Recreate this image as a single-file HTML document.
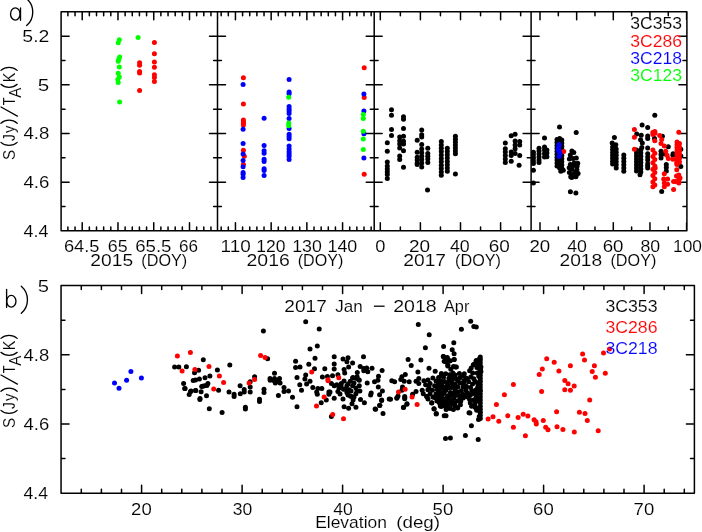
<!DOCTYPE html>
<html><head><meta charset="utf-8"><style>
html,body{margin:0;padding:0;background:#fff;}
svg{display:block;}
text{font-family:"Liberation Sans",sans-serif;font-size:17px;stroke:#fff;stroke-width:0.12px;}
</style></head><body>
<svg width="702" height="532" viewBox="0 0 702 532">
<rect width="702" height="532" fill="#fff"/>
<path d="M61.10 11.80L686.90 11.80M61.10 230.80L686.90 230.80M61.10 11.80L61.10 230.80M686.90 11.80L686.90 230.80M217.50 11.80L217.50 230.80M374.20 11.80L374.20 230.80M531.10 11.80L531.10 230.80M61.10 206.47L65.00 206.47M683.00 206.47L686.90 206.47M213.60 206.47L221.40 206.47M370.30 206.47L378.10 206.47M527.20 206.47L535.00 206.47M61.10 182.13L69.10 182.13M678.90 182.13L686.90 182.13M209.50 182.13L225.50 182.13M366.20 182.13L382.20 182.13M523.10 182.13L539.10 182.13M61.10 157.80L65.00 157.80M683.00 157.80L686.90 157.80M213.60 157.80L221.40 157.80M370.30 157.80L378.10 157.80M527.20 157.80L535.00 157.80M61.10 133.47L69.10 133.47M678.90 133.47L686.90 133.47M209.50 133.47L225.50 133.47M366.20 133.47L382.20 133.47M523.10 133.47L539.10 133.47M61.10 109.13L65.00 109.13M683.00 109.13L686.90 109.13M213.60 109.13L221.40 109.13M370.30 109.13L378.10 109.13M527.20 109.13L535.00 109.13M61.10 84.80L69.10 84.80M678.90 84.80L686.90 84.80M209.50 84.80L225.50 84.80M366.20 84.80L382.20 84.80M523.10 84.80L539.10 84.80M61.10 60.47L65.00 60.47M683.00 60.47L686.90 60.47M213.60 60.47L221.40 60.47M370.30 60.47L378.10 60.47M527.20 60.47L535.00 60.47M61.10 36.13L69.10 36.13M678.90 36.13L686.90 36.13M209.50 36.13L225.50 36.13M366.20 36.13L382.20 36.13M523.10 36.13L539.10 36.13M61.10 11.80L65.00 11.80M683.00 11.80L686.90 11.80M213.60 11.80L221.40 11.80M370.30 11.80L378.10 11.80M527.20 11.80L535.00 11.80M67.89 230.80L67.89 226.90M67.89 11.80L67.89 15.70M75.05 230.80L75.05 226.90M75.05 11.80L75.05 15.70M82.20 230.80L82.20 222.80M82.20 11.80L82.20 19.80M89.35 230.80L89.35 226.90M89.35 11.80L89.35 15.70M96.51 230.80L96.51 226.90M96.51 11.80L96.51 15.70M103.66 230.80L103.66 226.90M103.66 11.80L103.66 15.70M110.81 230.80L110.81 226.90M110.81 11.80L110.81 15.70M117.97 230.80L117.97 222.80M117.97 11.80L117.97 19.80M125.12 230.80L125.12 226.90M125.12 11.80L125.12 15.70M132.27 230.80L132.27 226.90M132.27 11.80L132.27 15.70M139.42 230.80L139.42 226.90M139.42 11.80L139.42 15.70M146.58 230.80L146.58 226.90M146.58 11.80L146.58 15.70M153.73 230.80L153.73 222.80M153.73 11.80L153.73 19.80M160.88 230.80L160.88 226.90M160.88 11.80L160.88 15.70M168.04 230.80L168.04 226.90M168.04 11.80L168.04 15.70M175.19 230.80L175.19 226.90M175.19 11.80L175.19 15.70M182.34 230.80L182.34 226.90M182.34 11.80L182.34 15.70M189.50 230.80L189.50 222.80M189.50 11.80L189.50 19.80M196.65 230.80L196.65 226.90M196.65 11.80L196.65 15.70M203.80 230.80L203.80 226.90M203.80 11.80L203.80 15.70M210.95 230.80L210.95 226.90M210.95 11.80L210.95 15.70M221.17 230.80L221.17 226.90M221.17 11.80L221.17 15.70M228.31 230.80L228.31 226.90M228.31 11.80L228.31 15.70M235.45 230.80L235.45 222.80M235.45 11.80L235.45 19.80M242.59 230.80L242.59 226.90M242.59 11.80L242.59 15.70M249.73 230.80L249.73 226.90M249.73 11.80L249.73 15.70M256.88 230.80L256.88 226.90M256.88 11.80L256.88 15.70M264.02 230.80L264.02 226.90M264.02 11.80L264.02 15.70M271.16 230.80L271.16 222.80M271.16 11.80L271.16 19.80M278.30 230.80L278.30 226.90M278.30 11.80L278.30 15.70M285.44 230.80L285.44 226.90M285.44 11.80L285.44 15.70M292.59 230.80L292.59 226.90M292.59 11.80L292.59 15.70M299.73 230.80L299.73 226.90M299.73 11.80L299.73 15.70M306.87 230.80L306.87 222.80M306.87 11.80L306.87 19.80M314.01 230.80L314.01 226.90M314.01 11.80L314.01 15.70M321.15 230.80L321.15 226.90M321.15 11.80L321.15 15.70M328.30 230.80L328.30 226.90M328.30 11.80L328.30 15.70M335.44 230.80L335.44 226.90M335.44 11.80L335.44 15.70M342.58 230.80L342.58 222.80M342.58 11.80L342.58 19.80M349.72 230.80L349.72 226.90M349.72 11.80L349.72 15.70M356.86 230.80L356.86 226.90M356.86 11.80L356.86 15.70M364.01 230.80L364.01 226.90M364.01 11.80L364.01 15.70M371.15 230.80L371.15 226.90M371.15 11.80L371.15 15.70M380.30 230.80L380.30 222.80M380.30 11.80L380.30 19.80M400.35 230.80L400.35 226.90M400.35 11.80L400.35 15.70M420.40 230.80L420.40 222.80M420.40 11.80L420.40 19.80M440.45 230.80L440.45 226.90M440.45 11.80L440.45 15.70M460.50 230.80L460.50 222.80M460.50 11.80L460.50 19.80M480.55 230.80L480.55 226.90M480.55 11.80L480.55 15.70M500.60 230.80L500.60 222.80M500.60 11.80L500.60 19.80M520.65 230.80L520.65 226.90M520.65 11.80L520.65 15.70M540.00 230.80L540.00 222.80M540.00 11.80L540.00 19.80M558.33 230.80L558.33 226.90M558.33 11.80L558.33 15.70M576.65 230.80L576.65 222.80M576.65 11.80L576.65 19.80M594.98 230.80L594.98 226.90M594.98 11.80L594.98 15.70M613.30 230.80L613.30 222.80M613.30 11.80L613.30 19.80M631.62 230.80L631.62 226.90M631.62 11.80L631.62 15.70M649.95 230.80L649.95 222.80M649.95 11.80L649.95 19.80M668.27 230.80L668.27 226.90M668.27 11.80L668.27 15.70M686.60 230.80L686.60 222.80M686.60 11.80L686.60 19.80M61.05 285.60L694.40 285.60M61.05 493.20L694.40 493.20M61.05 285.60L61.05 493.20M694.40 285.60L694.40 493.20M61.05 458.60L64.95 458.60M690.50 458.60L694.40 458.60M61.05 424.00L69.05 424.00M686.40 424.00L694.40 424.00M61.05 389.40L64.95 389.40M690.50 389.40L694.40 389.40M61.05 354.80L69.05 354.80M686.40 354.80L694.40 354.80M61.05 320.20L64.95 320.20M690.50 320.20L694.40 320.20M81.30 493.20L81.30 489.30M81.30 285.60L81.30 289.50M101.40 493.20L101.40 489.30M101.40 285.60L101.40 289.50M121.50 493.20L121.50 489.30M121.50 285.60L121.50 289.50M141.60 493.20L141.60 485.20M141.60 285.60L141.60 293.60M161.70 493.20L161.70 489.30M161.70 285.60L161.70 289.50M181.80 493.20L181.80 489.30M181.80 285.60L181.80 289.50M201.90 493.20L201.90 489.30M201.90 285.60L201.90 289.50M222.00 493.20L222.00 489.30M222.00 285.60L222.00 289.50M242.10 493.20L242.10 485.20M242.10 285.60L242.10 293.60M262.20 493.20L262.20 489.30M262.20 285.60L262.20 289.50M282.30 493.20L282.30 489.30M282.30 285.60L282.30 289.50M302.40 493.20L302.40 489.30M302.40 285.60L302.40 289.50M322.50 493.20L322.50 489.30M322.50 285.60L322.50 289.50M342.60 493.20L342.60 485.20M342.60 285.60L342.60 293.60M362.70 493.20L362.70 489.30M362.70 285.60L362.70 289.50M382.80 493.20L382.80 489.30M382.80 285.60L382.80 289.50M402.90 493.20L402.90 489.30M402.90 285.60L402.90 289.50M423.00 493.20L423.00 489.30M423.00 285.60L423.00 289.50M443.10 493.20L443.10 485.20M443.10 285.60L443.10 293.60M463.20 493.20L463.20 489.30M463.20 285.60L463.20 289.50M483.30 493.20L483.30 489.30M483.30 285.60L483.30 289.50M503.40 493.20L503.40 489.30M503.40 285.60L503.40 289.50M523.50 493.20L523.50 489.30M523.50 285.60L523.50 289.50M543.60 493.20L543.60 485.20M543.60 285.60L543.60 293.60M563.70 493.20L563.70 489.30M563.70 285.60L563.70 289.50M583.80 493.20L583.80 489.30M583.80 285.60L583.80 289.50M603.90 493.20L603.90 489.30M603.90 285.60L603.90 289.50M624.00 493.20L624.00 489.30M624.00 285.60L624.00 289.50M644.10 493.20L644.10 485.20M644.10 285.60L644.10 293.60M664.20 493.20L664.20 489.30M664.20 285.60L664.20 289.50M684.30 493.20L684.30 489.30M684.30 285.60L684.30 289.50" stroke="#000" stroke-width="1.5" stroke-linecap="round" fill="none"/>
<circle cx="387.3" cy="142.8" r="2.5" fill="#000"/>
<circle cx="387.3" cy="151.2" r="2.5" fill="#000"/>
<circle cx="387.3" cy="162.1" r="2.5" fill="#000"/>
<circle cx="387.3" cy="166.1" r="2.5" fill="#000"/>
<circle cx="387.3" cy="168.9" r="2.5" fill="#000"/>
<circle cx="387.3" cy="171.7" r="2.5" fill="#000"/>
<circle cx="387.3" cy="174.5" r="2.5" fill="#000"/>
<circle cx="387.3" cy="178.5" r="2.5" fill="#000"/>
<circle cx="391.5" cy="109.7" r="2.5" fill="#000"/>
<circle cx="391.5" cy="115.3" r="2.5" fill="#000"/>
<circle cx="391.5" cy="129.4" r="2.5" fill="#000"/>
<circle cx="391.5" cy="135.6" r="2.5" fill="#000"/>
<circle cx="399.7" cy="137.0" r="2.5" fill="#000"/>
<circle cx="399.7" cy="140.7" r="2.5" fill="#000"/>
<circle cx="399.7" cy="144.1" r="2.5" fill="#000"/>
<circle cx="399.7" cy="148.0" r="2.5" fill="#000"/>
<circle cx="399.7" cy="155.9" r="2.5" fill="#000"/>
<circle cx="399.7" cy="159.5" r="2.5" fill="#000"/>
<circle cx="403.5" cy="116.7" r="2.5" fill="#000"/>
<circle cx="403.5" cy="119.3" r="2.5" fill="#000"/>
<circle cx="403.5" cy="128.5" r="2.5" fill="#000"/>
<circle cx="403.5" cy="136.2" r="2.5" fill="#000"/>
<circle cx="403.5" cy="141.3" r="2.5" fill="#000"/>
<circle cx="403.5" cy="144.1" r="2.5" fill="#000"/>
<circle cx="403.5" cy="150.8" r="2.5" fill="#000"/>
<circle cx="403.5" cy="167.2" r="2.5" fill="#000"/>
<circle cx="417.2" cy="140.2" r="2.5" fill="#000"/>
<circle cx="417.2" cy="152.3" r="2.5" fill="#000"/>
<circle cx="417.2" cy="157.3" r="2.5" fill="#000"/>
<circle cx="417.2" cy="160.1" r="2.5" fill="#000"/>
<circle cx="417.2" cy="163.0" r="2.5" fill="#000"/>
<circle cx="417.2" cy="164.6" r="2.5" fill="#000"/>
<circle cx="421.7" cy="130.1" r="2.5" fill="#000"/>
<circle cx="421.7" cy="134.8" r="2.5" fill="#000"/>
<circle cx="421.7" cy="137.0" r="2.5" fill="#000"/>
<circle cx="421.7" cy="144.4" r="2.5" fill="#000"/>
<circle cx="421.7" cy="148.9" r="2.5" fill="#000"/>
<circle cx="421.7" cy="152.8" r="2.5" fill="#000"/>
<circle cx="421.7" cy="156.2" r="2.5" fill="#000"/>
<circle cx="421.7" cy="159.6" r="2.5" fill="#000"/>
<circle cx="421.7" cy="163.0" r="2.5" fill="#000"/>
<circle cx="421.7" cy="166.9" r="2.5" fill="#000"/>
<circle cx="427.8" cy="148.3" r="2.5" fill="#000"/>
<circle cx="427.8" cy="153.4" r="2.5" fill="#000"/>
<circle cx="427.8" cy="156.2" r="2.5" fill="#000"/>
<circle cx="427.8" cy="159.0" r="2.5" fill="#000"/>
<circle cx="427.8" cy="162.4" r="2.5" fill="#000"/>
<circle cx="427.5" cy="190.0" r="2.5" fill="#000"/>
<circle cx="441.3" cy="141.5" r="2.5" fill="#000"/>
<circle cx="441.3" cy="144.9" r="2.5" fill="#000"/>
<circle cx="441.3" cy="148.3" r="2.5" fill="#000"/>
<circle cx="441.3" cy="151.6" r="2.5" fill="#000"/>
<circle cx="441.3" cy="155.0" r="2.5" fill="#000"/>
<circle cx="441.3" cy="158.4" r="2.5" fill="#000"/>
<circle cx="441.3" cy="161.8" r="2.5" fill="#000"/>
<circle cx="441.3" cy="165.2" r="2.5" fill="#000"/>
<circle cx="441.3" cy="168.5" r="2.5" fill="#000"/>
<circle cx="441.3" cy="171.9" r="2.5" fill="#000"/>
<circle cx="441.3" cy="175.3" r="2.5" fill="#000"/>
<circle cx="447.3" cy="148.2" r="2.5" fill="#000"/>
<circle cx="447.3" cy="151.5" r="2.5" fill="#000"/>
<circle cx="447.3" cy="154.8" r="2.5" fill="#000"/>
<circle cx="447.3" cy="158.1" r="2.5" fill="#000"/>
<circle cx="447.3" cy="161.4" r="2.5" fill="#000"/>
<circle cx="447.3" cy="164.7" r="2.5" fill="#000"/>
<circle cx="447.3" cy="168.0" r="2.5" fill="#000"/>
<circle cx="447.3" cy="171.3" r="2.5" fill="#000"/>
<circle cx="455.4" cy="136.3" r="2.5" fill="#000"/>
<circle cx="455.4" cy="139.2" r="2.5" fill="#000"/>
<circle cx="455.4" cy="142.1" r="2.5" fill="#000"/>
<circle cx="455.4" cy="145.1" r="2.5" fill="#000"/>
<circle cx="455.4" cy="148.0" r="2.5" fill="#000"/>
<circle cx="455.4" cy="150.9" r="2.5" fill="#000"/>
<circle cx="455.4" cy="153.8" r="2.5" fill="#000"/>
<circle cx="455.4" cy="173.9" r="2.5" fill="#000"/>
<circle cx="505.3" cy="142.9" r="2.5" fill="#000"/>
<circle cx="505.3" cy="148.8" r="2.5" fill="#000"/>
<circle cx="505.3" cy="152.0" r="2.5" fill="#000"/>
<circle cx="505.3" cy="155.5" r="2.5" fill="#000"/>
<circle cx="505.3" cy="159.0" r="2.5" fill="#000"/>
<circle cx="505.3" cy="162.5" r="2.5" fill="#000"/>
<circle cx="511.2" cy="135.7" r="2.5" fill="#000"/>
<circle cx="511.2" cy="152.1" r="2.5" fill="#000"/>
<circle cx="511.2" cy="155.4" r="2.5" fill="#000"/>
<circle cx="511.2" cy="161.3" r="2.5" fill="#000"/>
<circle cx="515.1" cy="134.3" r="2.5" fill="#000"/>
<circle cx="515.1" cy="140.9" r="2.5" fill="#000"/>
<circle cx="515.1" cy="144.9" r="2.5" fill="#000"/>
<circle cx="515.1" cy="148.8" r="2.5" fill="#000"/>
<circle cx="515.1" cy="153.4" r="2.5" fill="#000"/>
<circle cx="519.7" cy="141.6" r="2.5" fill="#000"/>
<circle cx="519.7" cy="144.9" r="2.5" fill="#000"/>
<circle cx="519.7" cy="155.4" r="2.5" fill="#000"/>
<circle cx="519.1" cy="165.3" r="2.5" fill="#000"/>
<circle cx="533.4" cy="152.2" r="2.5" fill="#000"/>
<circle cx="533.4" cy="155.0" r="2.5" fill="#000"/>
<circle cx="533.4" cy="158.0" r="2.5" fill="#000"/>
<circle cx="533.4" cy="161.0" r="2.5" fill="#000"/>
<circle cx="533.4" cy="163.5" r="2.5" fill="#000"/>
<circle cx="533.4" cy="170.2" r="2.5" fill="#000"/>
<circle cx="533.4" cy="183.1" r="2.5" fill="#000"/>
<circle cx="539.0" cy="148.2" r="2.5" fill="#000"/>
<circle cx="539.0" cy="151.0" r="2.5" fill="#000"/>
<circle cx="539.0" cy="154.0" r="2.5" fill="#000"/>
<circle cx="539.0" cy="157.0" r="2.5" fill="#000"/>
<circle cx="539.0" cy="160.0" r="2.5" fill="#000"/>
<circle cx="539.0" cy="162.5" r="2.5" fill="#000"/>
<circle cx="544.5" cy="137.9" r="2.5" fill="#000"/>
<circle cx="544.5" cy="147.0" r="2.5" fill="#000"/>
<circle cx="544.5" cy="150.0" r="2.5" fill="#000"/>
<circle cx="544.5" cy="153.5" r="2.5" fill="#000"/>
<circle cx="544.5" cy="157.0" r="2.5" fill="#000"/>
<circle cx="546.9" cy="150.0" r="2.5" fill="#000"/>
<circle cx="546.9" cy="153.0" r="2.5" fill="#000"/>
<circle cx="546.9" cy="156.7" r="2.5" fill="#000"/>
<circle cx="559.5" cy="127.0" r="2.5" fill="#000"/>
<circle cx="576.2" cy="132.6" r="2.5" fill="#000"/>
<circle cx="557.0" cy="139.5" r="2.5" fill="#000"/>
<circle cx="557.0" cy="142.4" r="2.5" fill="#000"/>
<circle cx="557.0" cy="145.4" r="2.5" fill="#000"/>
<circle cx="557.0" cy="148.3" r="2.5" fill="#000"/>
<circle cx="557.0" cy="151.3" r="2.5" fill="#000"/>
<circle cx="557.0" cy="154.2" r="2.5" fill="#000"/>
<circle cx="557.0" cy="157.2" r="2.5" fill="#000"/>
<circle cx="557.0" cy="160.1" r="2.5" fill="#000"/>
<circle cx="557.0" cy="163.1" r="2.5" fill="#000"/>
<circle cx="557.0" cy="166.0" r="2.5" fill="#000"/>
<circle cx="559.6" cy="138.5" r="2.5" fill="#000"/>
<circle cx="559.6" cy="141.4" r="2.5" fill="#000"/>
<circle cx="559.6" cy="144.4" r="2.5" fill="#000"/>
<circle cx="559.6" cy="147.3" r="2.5" fill="#000"/>
<circle cx="559.6" cy="150.3" r="2.5" fill="#000"/>
<circle cx="559.6" cy="153.2" r="2.5" fill="#000"/>
<circle cx="559.6" cy="156.2" r="2.5" fill="#000"/>
<circle cx="559.6" cy="159.2" r="2.5" fill="#000"/>
<circle cx="559.6" cy="162.1" r="2.5" fill="#000"/>
<circle cx="559.6" cy="165.1" r="2.5" fill="#000"/>
<circle cx="559.6" cy="168.0" r="2.5" fill="#000"/>
<circle cx="561.8" cy="140.0" r="2.5" fill="#000"/>
<circle cx="561.8" cy="143.1" r="2.5" fill="#000"/>
<circle cx="561.8" cy="146.2" r="2.5" fill="#000"/>
<circle cx="561.8" cy="149.3" r="2.5" fill="#000"/>
<circle cx="561.8" cy="152.4" r="2.5" fill="#000"/>
<circle cx="561.8" cy="155.6" r="2.5" fill="#000"/>
<circle cx="561.8" cy="158.7" r="2.5" fill="#000"/>
<circle cx="561.8" cy="161.8" r="2.5" fill="#000"/>
<circle cx="561.8" cy="164.9" r="2.5" fill="#000"/>
<circle cx="561.8" cy="168.0" r="2.5" fill="#000"/>
<circle cx="560.8" cy="171.2" r="2.5" fill="#000"/>
<circle cx="563.3" cy="170.3" r="2.5" fill="#000"/>
<circle cx="571.9" cy="150.9" r="2.5" fill="#000"/>
<circle cx="570.4" cy="191.7" r="2.5" fill="#000"/>
<circle cx="575.9" cy="192.9" r="2.5" fill="#000"/>
<circle cx="614.4" cy="137.6" r="2.5" fill="#000"/>
<circle cx="612.2" cy="143.1" r="2.5" fill="#000"/>
<circle cx="615.8" cy="144.8" r="2.5" fill="#000"/>
<circle cx="612.6" cy="147.0" r="2.5" fill="#000"/>
<circle cx="612.6" cy="149.8" r="2.5" fill="#000"/>
<circle cx="612.6" cy="152.7" r="2.5" fill="#000"/>
<circle cx="612.6" cy="155.5" r="2.5" fill="#000"/>
<circle cx="612.6" cy="158.3" r="2.5" fill="#000"/>
<circle cx="612.6" cy="161.2" r="2.5" fill="#000"/>
<circle cx="612.6" cy="164.0" r="2.5" fill="#000"/>
<circle cx="616.2" cy="149.0" r="2.5" fill="#000"/>
<circle cx="616.2" cy="152.2" r="2.5" fill="#000"/>
<circle cx="616.2" cy="155.3" r="2.5" fill="#000"/>
<circle cx="616.2" cy="158.5" r="2.5" fill="#000"/>
<circle cx="616.2" cy="161.7" r="2.5" fill="#000"/>
<circle cx="616.2" cy="164.8" r="2.5" fill="#000"/>
<circle cx="616.2" cy="168.0" r="2.5" fill="#000"/>
<circle cx="623.8" cy="155.0" r="2.5" fill="#000"/>
<circle cx="623.8" cy="158.3" r="2.5" fill="#000"/>
<circle cx="623.8" cy="161.5" r="2.5" fill="#000"/>
<circle cx="623.8" cy="164.8" r="2.5" fill="#000"/>
<circle cx="623.8" cy="168.0" r="2.5" fill="#000"/>
<circle cx="623.8" cy="171.3" r="2.5" fill="#000"/>
<circle cx="654.8" cy="115.3" r="2.5" fill="#000"/>
<circle cx="642.1" cy="124.9" r="2.5" fill="#000"/>
<circle cx="647.7" cy="127.5" r="2.5" fill="#000"/>
<circle cx="636.7" cy="134.0" r="2.5" fill="#000"/>
<circle cx="641.2" cy="135.2" r="2.5" fill="#000"/>
<circle cx="640.6" cy="139.7" r="2.5" fill="#000"/>
<circle cx="642.3" cy="143.1" r="2.5" fill="#000"/>
<circle cx="641.8" cy="147.6" r="2.5" fill="#000"/>
<circle cx="640.0" cy="174.7" r="2.5" fill="#000"/>
<circle cx="636.5" cy="150.0" r="2.5" fill="#000"/>
<circle cx="636.5" cy="153.0" r="2.5" fill="#000"/>
<circle cx="636.5" cy="156.0" r="2.5" fill="#000"/>
<circle cx="636.5" cy="159.0" r="2.5" fill="#000"/>
<circle cx="636.5" cy="162.0" r="2.5" fill="#000"/>
<circle cx="636.5" cy="165.0" r="2.5" fill="#000"/>
<circle cx="636.5" cy="168.0" r="2.5" fill="#000"/>
<circle cx="636.5" cy="171.0" r="2.5" fill="#000"/>
<circle cx="640.8" cy="150.0" r="2.5" fill="#000"/>
<circle cx="640.8" cy="153.1" r="2.5" fill="#000"/>
<circle cx="640.8" cy="156.3" r="2.5" fill="#000"/>
<circle cx="640.8" cy="159.4" r="2.5" fill="#000"/>
<circle cx="640.8" cy="162.6" r="2.5" fill="#000"/>
<circle cx="640.8" cy="165.7" r="2.5" fill="#000"/>
<circle cx="640.8" cy="168.9" r="2.5" fill="#000"/>
<circle cx="640.8" cy="172.0" r="2.5" fill="#000"/>
<circle cx="647.7" cy="136.1" r="2.5" fill="#000"/>
<circle cx="647.7" cy="138.4" r="2.5" fill="#000"/>
<circle cx="647.7" cy="148.0" r="2.5" fill="#000"/>
<circle cx="647.7" cy="153.7" r="2.5" fill="#000"/>
<circle cx="647.7" cy="157.0" r="2.5" fill="#000"/>
<circle cx="647.7" cy="159.9" r="2.5" fill="#000"/>
<circle cx="647.7" cy="163.8" r="2.5" fill="#000"/>
<circle cx="647.7" cy="166.0" r="2.5" fill="#000"/>
<circle cx="647.7" cy="168.0" r="2.5" fill="#000"/>
<circle cx="654.5" cy="138.4" r="2.5" fill="#000"/>
<circle cx="662.4" cy="136.3" r="2.5" fill="#000"/>
<circle cx="668.3" cy="146.7" r="2.5" fill="#000"/>
<circle cx="661.0" cy="151.3" r="2.5" fill="#000"/>
<circle cx="661.0" cy="154.5" r="2.5" fill="#000"/>
<circle cx="661.0" cy="157.9" r="2.5" fill="#000"/>
<circle cx="663.7" cy="154.0" r="2.5" fill="#000"/>
<circle cx="666.3" cy="164.5" r="2.5" fill="#000"/>
<circle cx="666.3" cy="167.5" r="2.5" fill="#000"/>
<circle cx="666.3" cy="171.0" r="2.5" fill="#000"/>
<circle cx="672.9" cy="155.3" r="2.5" fill="#000"/>
<circle cx="680.8" cy="149.3" r="2.5" fill="#000"/>
<circle cx="680.8" cy="155.9" r="2.5" fill="#000"/>
<circle cx="680.8" cy="166.4" r="2.5" fill="#000"/>
<circle cx="661.7" cy="191.4" r="2.5" fill="#000"/>
<circle cx="673.1" cy="153.8" r="2.5" fill="#000"/>
<circle cx="203.3" cy="359.7" r="2.5" fill="#000"/>
<circle cx="174.6" cy="367.1" r="2.5" fill="#000"/>
<circle cx="178.8" cy="367.1" r="2.5" fill="#000"/>
<circle cx="186.4" cy="366.7" r="2.5" fill="#000"/>
<circle cx="198.6" cy="370.2" r="2.5" fill="#000"/>
<circle cx="194.5" cy="372.7" r="2.5" fill="#000"/>
<circle cx="217.4" cy="369.9" r="2.5" fill="#000"/>
<circle cx="209.9" cy="376.1" r="2.5" fill="#000"/>
<circle cx="205.0" cy="377.8" r="2.5" fill="#000"/>
<circle cx="199.4" cy="378.9" r="2.5" fill="#000"/>
<circle cx="195.5" cy="380.0" r="2.5" fill="#000"/>
<circle cx="193.2" cy="380.6" r="2.5" fill="#000"/>
<circle cx="183.6" cy="383.4" r="2.5" fill="#000"/>
<circle cx="185.1" cy="388.5" r="2.5" fill="#000"/>
<circle cx="207.9" cy="383.4" r="2.5" fill="#000"/>
<circle cx="204.5" cy="385.7" r="2.5" fill="#000"/>
<circle cx="201.7" cy="386.5" r="2.5" fill="#000"/>
<circle cx="191.0" cy="391.0" r="2.5" fill="#000"/>
<circle cx="195.5" cy="390.5" r="2.5" fill="#000"/>
<circle cx="189.2" cy="394.4" r="2.5" fill="#000"/>
<circle cx="201.1" cy="391.7" r="2.5" fill="#000"/>
<circle cx="218.6" cy="390.2" r="2.5" fill="#000"/>
<circle cx="206.5" cy="395.8" r="2.5" fill="#000"/>
<circle cx="200.0" cy="398.6" r="2.5" fill="#000"/>
<circle cx="184.7" cy="388.4" r="2.5" fill="#000"/>
<circle cx="190.6" cy="391.4" r="2.5" fill="#000"/>
<circle cx="195.8" cy="390.6" r="2.5" fill="#000"/>
<circle cx="202.6" cy="386.3" r="2.5" fill="#000"/>
<circle cx="206.9" cy="385.4" r="2.5" fill="#000"/>
<circle cx="199.9" cy="399.4" r="2.5" fill="#000"/>
<circle cx="209.3" cy="408.8" r="2.5" fill="#000"/>
<circle cx="222.1" cy="412.5" r="2.5" fill="#000"/>
<circle cx="263.4" cy="330.9" r="2.5" fill="#000"/>
<circle cx="267.6" cy="358.7" r="2.5" fill="#000"/>
<circle cx="229.8" cy="364.9" r="2.5" fill="#000"/>
<circle cx="254.6" cy="376.7" r="2.5" fill="#000"/>
<circle cx="274.5" cy="373.3" r="2.5" fill="#000"/>
<circle cx="270.0" cy="378.6" r="2.5" fill="#000"/>
<circle cx="274.5" cy="378.6" r="2.5" fill="#000"/>
<circle cx="279.5" cy="378.6" r="2.5" fill="#000"/>
<circle cx="250.2" cy="381.8" r="2.5" fill="#000"/>
<circle cx="250.2" cy="386.9" r="2.5" fill="#000"/>
<circle cx="250.2" cy="392.0" r="2.5" fill="#000"/>
<circle cx="240.1" cy="385.8" r="2.5" fill="#000"/>
<circle cx="244.2" cy="389.4" r="2.5" fill="#000"/>
<circle cx="244.2" cy="392.0" r="2.5" fill="#000"/>
<circle cx="240.3" cy="393.7" r="2.5" fill="#000"/>
<circle cx="229.0" cy="392.0" r="2.5" fill="#000"/>
<circle cx="234.1" cy="394.2" r="2.5" fill="#000"/>
<circle cx="234.1" cy="396.5" r="2.5" fill="#000"/>
<circle cx="245.4" cy="407.2" r="2.5" fill="#000"/>
<circle cx="245.4" cy="408.9" r="2.5" fill="#000"/>
<circle cx="264.0" cy="389.2" r="2.5" fill="#000"/>
<circle cx="264.0" cy="392.6" r="2.5" fill="#000"/>
<circle cx="259.5" cy="399.3" r="2.5" fill="#000"/>
<circle cx="259.5" cy="401.6" r="2.5" fill="#000"/>
<circle cx="270.2" cy="380.2" r="2.5" fill="#000"/>
<circle cx="274.1" cy="380.7" r="2.5" fill="#000"/>
<circle cx="275.3" cy="383.0" r="2.5" fill="#000"/>
<circle cx="278.6" cy="381.3" r="2.5" fill="#000"/>
<circle cx="278.4" cy="395.4" r="2.5" fill="#000"/>
<circle cx="305.7" cy="321.7" r="2.5" fill="#000"/>
<circle cx="319.2" cy="329.0" r="2.5" fill="#000"/>
<circle cx="317.3" cy="345.9" r="2.5" fill="#000"/>
<circle cx="310.0" cy="349.1" r="2.5" fill="#000"/>
<circle cx="315.0" cy="358.3" r="2.5" fill="#000"/>
<circle cx="295.6" cy="361.2" r="2.5" fill="#000"/>
<circle cx="308.8" cy="364.3" r="2.5" fill="#000"/>
<circle cx="295.6" cy="367.4" r="2.5" fill="#000"/>
<circle cx="300.0" cy="367.1" r="2.5" fill="#000"/>
<circle cx="314.5" cy="368.7" r="2.5" fill="#000"/>
<circle cx="324.8" cy="368.8" r="2.5" fill="#000"/>
<circle cx="334.2" cy="356.7" r="2.5" fill="#000"/>
<circle cx="334.2" cy="364.0" r="2.5" fill="#000"/>
<circle cx="334.2" cy="369.1" r="2.5" fill="#000"/>
<circle cx="305.7" cy="375.0" r="2.5" fill="#000"/>
<circle cx="297.0" cy="377.5" r="2.5" fill="#000"/>
<circle cx="322.4" cy="377.0" r="2.5" fill="#000"/>
<circle cx="327.4" cy="376.4" r="2.5" fill="#000"/>
<circle cx="332.5" cy="375.8" r="2.5" fill="#000"/>
<circle cx="280.1" cy="383.0" r="2.5" fill="#000"/>
<circle cx="276.1" cy="381.3" r="2.5" fill="#000"/>
<circle cx="304.9" cy="379.0" r="2.5" fill="#000"/>
<circle cx="310.0" cy="381.3" r="2.5" fill="#000"/>
<circle cx="306.6" cy="384.1" r="2.5" fill="#000"/>
<circle cx="299.8" cy="384.7" r="2.5" fill="#000"/>
<circle cx="301.5" cy="390.3" r="2.5" fill="#000"/>
<circle cx="284.0" cy="387.5" r="2.5" fill="#000"/>
<circle cx="284.0" cy="391.4" r="2.5" fill="#000"/>
<circle cx="288.5" cy="390.9" r="2.5" fill="#000"/>
<circle cx="292.5" cy="397.3" r="2.5" fill="#000"/>
<circle cx="297.0" cy="406.7" r="2.5" fill="#000"/>
<circle cx="312.8" cy="387.5" r="2.5" fill="#000"/>
<circle cx="317.9" cy="388.6" r="2.5" fill="#000"/>
<circle cx="321.8" cy="388.6" r="2.5" fill="#000"/>
<circle cx="316.7" cy="392.0" r="2.5" fill="#000"/>
<circle cx="317.3" cy="394.2" r="2.5" fill="#000"/>
<circle cx="331.4" cy="383.5" r="2.5" fill="#000"/>
<circle cx="334.2" cy="385.8" r="2.5" fill="#000"/>
<circle cx="328.9" cy="392.0" r="2.5" fill="#000"/>
<circle cx="328.9" cy="394.2" r="2.5" fill="#000"/>
<circle cx="326.3" cy="399.9" r="2.5" fill="#000"/>
<circle cx="321.2" cy="402.7" r="2.5" fill="#000"/>
<circle cx="331.4" cy="416.5" r="2.5" fill="#000"/>
<circle cx="334.2" cy="398.2" r="2.5" fill="#000"/>
<circle cx="337.9" cy="374.7" r="2.5" fill="#000"/>
<circle cx="343.0" cy="358.9" r="2.5" fill="#000"/>
<circle cx="348.0" cy="357.8" r="2.5" fill="#000"/>
<circle cx="346.9" cy="361.7" r="2.5" fill="#000"/>
<circle cx="352.6" cy="362.9" r="2.5" fill="#000"/>
<circle cx="348.6" cy="367.1" r="2.5" fill="#000"/>
<circle cx="344.1" cy="369.6" r="2.5" fill="#000"/>
<circle cx="344.7" cy="373.0" r="2.5" fill="#000"/>
<circle cx="363.5" cy="356.7" r="2.5" fill="#000"/>
<circle cx="360.2" cy="366.5" r="2.5" fill="#000"/>
<circle cx="363.8" cy="368.5" r="2.5" fill="#000"/>
<circle cx="366.7" cy="367.9" r="2.5" fill="#000"/>
<circle cx="363.8" cy="370.8" r="2.5" fill="#000"/>
<circle cx="367.8" cy="371.7" r="2.5" fill="#000"/>
<circle cx="372.0" cy="368.3" r="2.5" fill="#000"/>
<circle cx="357.3" cy="372.4" r="2.5" fill="#000"/>
<circle cx="382.1" cy="370.5" r="2.5" fill="#000"/>
<circle cx="378.5" cy="376.2" r="2.5" fill="#000"/>
<circle cx="353.0" cy="377.5" r="2.5" fill="#000"/>
<circle cx="356.5" cy="378.5" r="2.5" fill="#000"/>
<circle cx="358.8" cy="379.8" r="2.5" fill="#000"/>
<circle cx="352.6" cy="377.9" r="2.5" fill="#000"/>
<circle cx="357.1" cy="376.8" r="2.5" fill="#000"/>
<circle cx="359.3" cy="380.2" r="2.5" fill="#000"/>
<circle cx="350.3" cy="381.3" r="2.5" fill="#000"/>
<circle cx="341.3" cy="383.5" r="2.5" fill="#000"/>
<circle cx="336.8" cy="384.7" r="2.5" fill="#000"/>
<circle cx="346.9" cy="385.8" r="2.5" fill="#000"/>
<circle cx="352.6" cy="385.8" r="2.5" fill="#000"/>
<circle cx="359.3" cy="385.8" r="2.5" fill="#000"/>
<circle cx="339.0" cy="388.0" r="2.5" fill="#000"/>
<circle cx="343.5" cy="389.2" r="2.5" fill="#000"/>
<circle cx="349.2" cy="389.7" r="2.5" fill="#000"/>
<circle cx="355.9" cy="388.0" r="2.5" fill="#000"/>
<circle cx="359.9" cy="390.9" r="2.5" fill="#000"/>
<circle cx="337.9" cy="391.4" r="2.5" fill="#000"/>
<circle cx="346.9" cy="392.6" r="2.5" fill="#000"/>
<circle cx="355.9" cy="393.7" r="2.5" fill="#000"/>
<circle cx="350.3" cy="395.9" r="2.5" fill="#000"/>
<circle cx="353.1" cy="399.9" r="2.5" fill="#000"/>
<circle cx="352.0" cy="403.8" r="2.5" fill="#000"/>
<circle cx="330.0" cy="392.0" r="2.5" fill="#000"/>
<circle cx="343.0" cy="399.1" r="2.5" fill="#000"/>
<circle cx="360.5" cy="399.5" r="2.5" fill="#000"/>
<circle cx="364.4" cy="402.7" r="2.5" fill="#000"/>
<circle cx="344.1" cy="406.7" r="2.5" fill="#000"/>
<circle cx="348.6" cy="408.3" r="2.5" fill="#000"/>
<circle cx="355.9" cy="407.2" r="2.5" fill="#000"/>
<circle cx="367.2" cy="383.0" r="2.5" fill="#000"/>
<circle cx="371.2" cy="393.1" r="2.5" fill="#000"/>
<circle cx="374.5" cy="381.8" r="2.5" fill="#000"/>
<circle cx="377.9" cy="380.2" r="2.5" fill="#000"/>
<circle cx="378.3" cy="386.9" r="2.5" fill="#000"/>
<circle cx="382.4" cy="390.9" r="2.5" fill="#000"/>
<circle cx="379.6" cy="394.8" r="2.5" fill="#000"/>
<circle cx="381.7" cy="399.9" r="2.5" fill="#000"/>
<circle cx="379.6" cy="405.5" r="2.5" fill="#000"/>
<circle cx="375.1" cy="408.9" r="2.5" fill="#000"/>
<circle cx="383.0" cy="413.4" r="2.5" fill="#000"/>
<circle cx="389.2" cy="399.1" r="2.5" fill="#000"/>
<circle cx="344.0" cy="381.0" r="2.5" fill="#000"/>
<circle cx="348.0" cy="384.0" r="2.5" fill="#000"/>
<circle cx="354.0" cy="383.0" r="2.5" fill="#000"/>
<circle cx="341.0" cy="386.0" r="2.5" fill="#000"/>
<circle cx="345.0" cy="389.0" r="2.5" fill="#000"/>
<circle cx="351.0" cy="391.0" r="2.5" fill="#000"/>
<circle cx="357.0" cy="391.0" r="2.5" fill="#000"/>
<circle cx="340.0" cy="394.0" r="2.5" fill="#000"/>
<circle cx="348.0" cy="395.0" r="2.5" fill="#000"/>
<circle cx="354.0" cy="397.0" r="2.5" fill="#000"/>
<circle cx="351.4" cy="396.4" r="2.5" fill="#000"/>
<circle cx="370.6" cy="395.0" r="2.5" fill="#000"/>
<circle cx="381.6" cy="400.4" r="2.5" fill="#000"/>
<circle cx="379.9" cy="405.3" r="2.5" fill="#000"/>
<circle cx="375.6" cy="409.2" r="2.5" fill="#000"/>
<circle cx="390.5" cy="399.3" r="2.5" fill="#000"/>
<circle cx="397.0" cy="397.8" r="2.5" fill="#000"/>
<circle cx="404.8" cy="397.8" r="2.5" fill="#000"/>
<circle cx="406.9" cy="404.3" r="2.5" fill="#000"/>
<circle cx="403.4" cy="407.5" r="2.5" fill="#000"/>
<circle cx="426.9" cy="396.4" r="2.5" fill="#000"/>
<circle cx="418.3" cy="324.6" r="2.5" fill="#000"/>
<circle cx="429.2" cy="334.7" r="2.5" fill="#000"/>
<circle cx="425.4" cy="347.7" r="2.5" fill="#000"/>
<circle cx="443.6" cy="346.4" r="2.5" fill="#000"/>
<circle cx="443.4" cy="356.5" r="2.5" fill="#000"/>
<circle cx="444.2" cy="361.2" r="2.5" fill="#000"/>
<circle cx="408.1" cy="359.5" r="2.5" fill="#000"/>
<circle cx="420.9" cy="359.9" r="2.5" fill="#000"/>
<circle cx="411.2" cy="365.5" r="2.5" fill="#000"/>
<circle cx="429.0" cy="368.2" r="2.5" fill="#000"/>
<circle cx="435.2" cy="371.2" r="2.5" fill="#000"/>
<circle cx="417.9" cy="372.0" r="2.5" fill="#000"/>
<circle cx="441.4" cy="373.6" r="2.5" fill="#000"/>
<circle cx="405.3" cy="374.5" r="2.5" fill="#000"/>
<circle cx="401.9" cy="376.8" r="2.5" fill="#000"/>
<circle cx="400.8" cy="379.6" r="2.5" fill="#000"/>
<circle cx="404.2" cy="381.3" r="2.5" fill="#000"/>
<circle cx="391.8" cy="380.7" r="2.5" fill="#000"/>
<circle cx="394.6" cy="381.8" r="2.5" fill="#000"/>
<circle cx="409.2" cy="381.8" r="2.5" fill="#000"/>
<circle cx="402.5" cy="386.9" r="2.5" fill="#000"/>
<circle cx="401.9" cy="390.3" r="2.5" fill="#000"/>
<circle cx="398.0" cy="395.9" r="2.5" fill="#000"/>
<circle cx="396.8" cy="398.2" r="2.5" fill="#000"/>
<circle cx="404.7" cy="396.5" r="2.5" fill="#000"/>
<circle cx="404.7" cy="398.8" r="2.5" fill="#000"/>
<circle cx="407.0" cy="403.8" r="2.5" fill="#000"/>
<circle cx="403.6" cy="407.2" r="2.5" fill="#000"/>
<circle cx="412.6" cy="394.2" r="2.5" fill="#000"/>
<circle cx="416.0" cy="391.4" r="2.5" fill="#000"/>
<circle cx="416.0" cy="381.3" r="2.5" fill="#000"/>
<circle cx="418.8" cy="378.5" r="2.5" fill="#000"/>
<circle cx="418.8" cy="383.5" r="2.5" fill="#000"/>
<circle cx="423.9" cy="380.7" r="2.5" fill="#000"/>
<circle cx="432.9" cy="377.9" r="2.5" fill="#000"/>
<circle cx="441.4" cy="374.5" r="2.5" fill="#000"/>
<circle cx="425.6" cy="384.7" r="2.5" fill="#000"/>
<circle cx="430.1" cy="383.5" r="2.5" fill="#000"/>
<circle cx="434.6" cy="385.8" r="2.5" fill="#000"/>
<circle cx="422.2" cy="390.3" r="2.5" fill="#000"/>
<circle cx="427.9" cy="389.7" r="2.5" fill="#000"/>
<circle cx="432.4" cy="390.3" r="2.5" fill="#000"/>
<circle cx="423.3" cy="393.7" r="2.5" fill="#000"/>
<circle cx="426.7" cy="396.5" r="2.5" fill="#000"/>
<circle cx="439.1" cy="381.3" r="2.5" fill="#000"/>
<circle cx="441.4" cy="388.0" r="2.5" fill="#000"/>
<circle cx="438.0" cy="392.6" r="2.5" fill="#000"/>
<circle cx="443.6" cy="392.6" r="2.5" fill="#000"/>
<circle cx="434.6" cy="397.6" r="2.5" fill="#000"/>
<circle cx="441.4" cy="397.1" r="2.5" fill="#000"/>
<circle cx="431.8" cy="402.7" r="2.5" fill="#000"/>
<circle cx="436.9" cy="401.0" r="2.5" fill="#000"/>
<circle cx="440.3" cy="406.1" r="2.5" fill="#000"/>
<circle cx="434.1" cy="408.9" r="2.5" fill="#000"/>
<circle cx="436.3" cy="413.4" r="2.5" fill="#000"/>
<circle cx="444.2" cy="415.7" r="2.5" fill="#000"/>
<circle cx="446.0" cy="415.8" r="2.5" fill="#000"/>
<circle cx="428.0" cy="380.0" r="2.5" fill="#000"/>
<circle cx="436.0" cy="381.0" r="2.5" fill="#000"/>
<circle cx="429.0" cy="387.0" r="2.5" fill="#000"/>
<circle cx="437.0" cy="389.0" r="2.5" fill="#000"/>
<circle cx="430.0" cy="394.0" r="2.5" fill="#000"/>
<circle cx="436.0" cy="394.0" r="2.5" fill="#000"/>
<circle cx="428.0" cy="399.0" r="2.5" fill="#000"/>
<circle cx="433.0" cy="397.0" r="2.5" fill="#000"/>
<circle cx="431.7" cy="403.0" r="2.5" fill="#000"/>
<circle cx="434.0" cy="408.8" r="2.5" fill="#000"/>
<circle cx="470.7" cy="321.3" r="2.5" fill="#000"/>
<circle cx="473.8" cy="326.4" r="2.5" fill="#000"/>
<circle cx="476.3" cy="326.9" r="2.5" fill="#000"/>
<circle cx="461.4" cy="329.2" r="2.5" fill="#000"/>
<circle cx="453.8" cy="342.7" r="2.5" fill="#000"/>
<circle cx="452.2" cy="349.7" r="2.5" fill="#000"/>
<circle cx="454.1" cy="353.8" r="2.5" fill="#000"/>
<circle cx="447.3" cy="357.4" r="2.5" fill="#000"/>
<circle cx="454.1" cy="359.4" r="2.5" fill="#000"/>
<circle cx="446.2" cy="360.8" r="2.5" fill="#000"/>
<circle cx="450.2" cy="360.8" r="2.5" fill="#000"/>
<circle cx="447.9" cy="365.3" r="2.5" fill="#000"/>
<circle cx="453.5" cy="366.4" r="2.5" fill="#000"/>
<circle cx="456.4" cy="367.0" r="2.5" fill="#000"/>
<circle cx="443.3" cy="356.5" r="2.5" fill="#000"/>
<circle cx="447.0" cy="358.0" r="2.5" fill="#000"/>
<circle cx="454.2" cy="359.5" r="2.5" fill="#000"/>
<circle cx="445.5" cy="361.8" r="2.5" fill="#000"/>
<circle cx="449.3" cy="361.0" r="2.5" fill="#000"/>
<circle cx="447.8" cy="365.9" r="2.5" fill="#000"/>
<circle cx="450.8" cy="369.3" r="2.5" fill="#000"/>
<circle cx="455.3" cy="367.0" r="2.5" fill="#000"/>
<circle cx="479.7" cy="358.4" r="2.5" fill="#000"/>
<circle cx="476.3" cy="360.6" r="2.5" fill="#000"/>
<circle cx="477.8" cy="362.5" r="2.5" fill="#000"/>
<circle cx="473.3" cy="364.8" r="2.5" fill="#000"/>
<circle cx="480.9" cy="367.0" r="2.5" fill="#000"/>
<circle cx="480.9" cy="371.5" r="2.5" fill="#000"/>
<circle cx="469.6" cy="370.8" r="2.5" fill="#000"/>
<circle cx="436.2" cy="414.0" r="2.5" fill="#000"/>
<circle cx="469.9" cy="413.0" r="2.5" fill="#000"/>
<circle cx="471.4" cy="425.8" r="2.5" fill="#000"/>
<circle cx="465.4" cy="435.4" r="2.5" fill="#000"/>
<circle cx="445.5" cy="438.4" r="2.5" fill="#000"/>
<circle cx="450.4" cy="438.1" r="2.5" fill="#000"/>
<circle cx="478.2" cy="439.6" r="2.5" fill="#000"/>
<circle cx="469.0" cy="412.8" r="2.5" fill="#000"/>
<circle cx="443.9" cy="393.5" r="2.5" fill="#000"/>
<circle cx="447.7" cy="395.8" r="2.5" fill="#000"/>
<circle cx="455.1" cy="375.0" r="2.5" fill="#000"/>
<circle cx="444.5" cy="381.5" r="2.5" fill="#000"/>
<circle cx="465.9" cy="390.6" r="2.5" fill="#000"/>
<circle cx="461.3" cy="390.8" r="2.5" fill="#000"/>
<circle cx="455.5" cy="378.3" r="2.5" fill="#000"/>
<circle cx="455.4" cy="405.9" r="2.5" fill="#000"/>
<circle cx="452.2" cy="401.0" r="2.5" fill="#000"/>
<circle cx="459.0" cy="395.3" r="2.5" fill="#000"/>
<circle cx="445.7" cy="373.7" r="2.5" fill="#000"/>
<circle cx="457.7" cy="408.0" r="2.5" fill="#000"/>
<circle cx="448.5" cy="403.3" r="2.5" fill="#000"/>
<circle cx="449.9" cy="408.5" r="2.5" fill="#000"/>
<circle cx="462.5" cy="376.3" r="2.5" fill="#000"/>
<circle cx="440.9" cy="380.9" r="2.5" fill="#000"/>
<circle cx="455.2" cy="384.1" r="2.5" fill="#000"/>
<circle cx="451.7" cy="387.4" r="2.5" fill="#000"/>
<circle cx="463.2" cy="394.4" r="2.5" fill="#000"/>
<circle cx="457.7" cy="380.6" r="2.5" fill="#000"/>
<circle cx="439.6" cy="403.3" r="2.5" fill="#000"/>
<circle cx="448.9" cy="378.3" r="2.5" fill="#000"/>
<circle cx="445.5" cy="402.1" r="2.5" fill="#000"/>
<circle cx="442.7" cy="388.2" r="2.5" fill="#000"/>
<circle cx="446.1" cy="409.4" r="2.5" fill="#000"/>
<circle cx="463.0" cy="387.0" r="2.5" fill="#000"/>
<circle cx="450.4" cy="392.5" r="2.5" fill="#000"/>
<circle cx="455.7" cy="395.4" r="2.5" fill="#000"/>
<circle cx="452.9" cy="372.9" r="2.5" fill="#000"/>
<circle cx="437.6" cy="396.2" r="2.5" fill="#000"/>
<circle cx="455.2" cy="390.5" r="2.5" fill="#000"/>
<circle cx="457.5" cy="400.9" r="2.5" fill="#000"/>
<circle cx="447.6" cy="384.5" r="2.5" fill="#000"/>
<circle cx="445.7" cy="387.0" r="2.5" fill="#000"/>
<circle cx="459.4" cy="373.5" r="2.5" fill="#000"/>
<circle cx="443.5" cy="377.2" r="2.5" fill="#000"/>
<circle cx="452.4" cy="379.8" r="2.5" fill="#000"/>
<circle cx="460.4" cy="404.8" r="2.5" fill="#000"/>
<circle cx="460.0" cy="382.9" r="2.5" fill="#000"/>
<circle cx="463.9" cy="381.1" r="2.5" fill="#000"/>
<circle cx="442.0" cy="384.0" r="2.5" fill="#000"/>
<circle cx="444.3" cy="405.7" r="2.5" fill="#000"/>
<circle cx="438.4" cy="382.9" r="2.5" fill="#000"/>
<circle cx="438.6" cy="377.4" r="2.5" fill="#000"/>
<circle cx="439.5" cy="391.8" r="2.5" fill="#000"/>
<circle cx="457.8" cy="387.1" r="2.5" fill="#000"/>
<circle cx="449.2" cy="399.2" r="2.5" fill="#000"/>
<circle cx="439.1" cy="388.9" r="2.5" fill="#000"/>
<circle cx="460.0" cy="398.2" r="2.5" fill="#000"/>
<circle cx="450.9" cy="395.6" r="2.5" fill="#000"/>
<circle cx="442.4" cy="399.6" r="2.5" fill="#000"/>
<circle cx="453.8" cy="398.5" r="2.5" fill="#000"/>
<circle cx="445.6" cy="398.5" r="2.5" fill="#000"/>
<circle cx="439.0" cy="400.1" r="2.5" fill="#000"/>
<circle cx="460.7" cy="401.3" r="2.5" fill="#000"/>
<circle cx="453.4" cy="409.4" r="2.5" fill="#000"/>
<circle cx="445.8" cy="390.4" r="2.5" fill="#000"/>
<circle cx="459.7" cy="378.0" r="2.5" fill="#000"/>
<circle cx="448.7" cy="387.8" r="2.5" fill="#000"/>
<circle cx="464.1" cy="384.1" r="2.5" fill="#000"/>
<circle cx="464.3" cy="373.8" r="2.5" fill="#000"/>
<circle cx="449.0" cy="381.3" r="2.5" fill="#000"/>
<circle cx="451.8" cy="404.5" r="2.5" fill="#000"/>
<circle cx="441.2" cy="395.6" r="2.5" fill="#000"/>
<circle cx="449.8" cy="374.7" r="2.5" fill="#000"/>
<circle cx="465.9" cy="378.0" r="2.5" fill="#000"/>
<circle cx="463.2" cy="398.0" r="2.5" fill="#000"/>
<circle cx="452.0" cy="383.5" r="2.5" fill="#000"/>
<circle cx="458.0" cy="392.1" r="2.5" fill="#000"/>
<circle cx="447.4" cy="406.4" r="2.5" fill="#000"/>
<circle cx="441.3" cy="406.6" r="2.5" fill="#000"/>
<circle cx="437.8" cy="386.0" r="2.5" fill="#000"/>
<circle cx="454.6" cy="402.9" r="2.5" fill="#000"/>
<circle cx="454.7" cy="387.1" r="2.5" fill="#000"/>
<circle cx="453.5" cy="392.9" r="2.5" fill="#000"/>
<circle cx="452.0" cy="376.7" r="2.5" fill="#000"/>
<circle cx="442.5" cy="402.7" r="2.5" fill="#000"/>
<circle cx="466.0" cy="386.5" r="2.5" fill="#000"/>
<circle cx="465.8" cy="396.1" r="2.5" fill="#000"/>
<circle cx="474.9" cy="403.9" r="2.5" fill="#000"/>
<circle cx="466.4" cy="386.6" r="2.5" fill="#000"/>
<circle cx="479.5" cy="398.1" r="2.5" fill="#000"/>
<circle cx="478.9" cy="364.6" r="2.5" fill="#000"/>
<circle cx="472.7" cy="372.9" r="2.5" fill="#000"/>
<circle cx="473.8" cy="393.4" r="2.5" fill="#000"/>
<circle cx="476.9" cy="367.5" r="2.5" fill="#000"/>
<circle cx="480.0" cy="412.0" r="2.5" fill="#000"/>
<circle cx="473.7" cy="399.9" r="2.5" fill="#000"/>
<circle cx="478.8" cy="376.2" r="2.5" fill="#000"/>
<circle cx="471.2" cy="367.9" r="2.5" fill="#000"/>
<circle cx="470.3" cy="395.2" r="2.5" fill="#000"/>
<circle cx="470.8" cy="376.9" r="2.5" fill="#000"/>
<circle cx="477.7" cy="387.5" r="2.5" fill="#000"/>
<circle cx="470.5" cy="387.6" r="2.5" fill="#000"/>
<circle cx="476.1" cy="361.1" r="2.5" fill="#000"/>
<circle cx="479.9" cy="358.9" r="2.5" fill="#000"/>
<circle cx="476.7" cy="410.3" r="2.5" fill="#000"/>
<circle cx="479.3" cy="416.4" r="2.5" fill="#000"/>
<circle cx="467.3" cy="378.8" r="2.5" fill="#000"/>
<circle cx="480.1" cy="390.8" r="2.5" fill="#000"/>
<circle cx="472.5" cy="383.9" r="2.5" fill="#000"/>
<circle cx="477.1" cy="400.9" r="2.5" fill="#000"/>
<circle cx="469.6" cy="399.5" r="2.5" fill="#000"/>
<circle cx="475.3" cy="407.4" r="2.5" fill="#000"/>
<circle cx="477.2" cy="393.8" r="2.5" fill="#000"/>
<circle cx="473.8" cy="378.7" r="2.5" fill="#000"/>
<circle cx="477.7" cy="383.7" r="2.5" fill="#000"/>
<circle cx="467.5" cy="392.9" r="2.5" fill="#000"/>
<circle cx="479.9" cy="381.2" r="2.5" fill="#000"/>
<circle cx="477.2" cy="372.9" r="2.5" fill="#000"/>
<circle cx="476.1" cy="397.0" r="2.5" fill="#000"/>
<circle cx="471.8" cy="390.7" r="2.5" fill="#000"/>
<circle cx="479.4" cy="407.2" r="2.5" fill="#000"/>
<circle cx="474.5" cy="364.0" r="2.5" fill="#000"/>
<circle cx="468.6" cy="381.8" r="2.5" fill="#000"/>
<circle cx="475.7" cy="390.1" r="2.5" fill="#000"/>
<circle cx="479.8" cy="369.2" r="2.5" fill="#000"/>
<circle cx="471.6" cy="406.2" r="2.5" fill="#000"/>
<circle cx="467.5" cy="397.0" r="2.5" fill="#000"/>
<circle cx="475.3" cy="381.6" r="2.5" fill="#000"/>
<circle cx="470.3" cy="403.0" r="2.5" fill="#000"/>
<circle cx="480.3" cy="357.0" r="2.5" fill="#000"/>
<circle cx="480.3" cy="360.1" r="2.5" fill="#000"/>
<circle cx="480.3" cy="363.1" r="2.5" fill="#000"/>
<circle cx="480.3" cy="366.2" r="2.5" fill="#000"/>
<circle cx="480.3" cy="369.3" r="2.5" fill="#000"/>
<circle cx="480.3" cy="372.4" r="2.5" fill="#000"/>
<circle cx="480.3" cy="375.4" r="2.5" fill="#000"/>
<circle cx="480.3" cy="378.5" r="2.5" fill="#000"/>
<circle cx="480.3" cy="381.6" r="2.5" fill="#000"/>
<circle cx="480.3" cy="384.7" r="2.5" fill="#000"/>
<circle cx="480.3" cy="387.8" r="2.5" fill="#000"/>
<circle cx="480.3" cy="390.8" r="2.5" fill="#000"/>
<circle cx="480.3" cy="393.9" r="2.5" fill="#000"/>
<circle cx="480.3" cy="397.0" r="2.5" fill="#000"/>
<circle cx="480.3" cy="400.1" r="2.5" fill="#000"/>
<circle cx="480.3" cy="403.1" r="2.5" fill="#000"/>
<circle cx="480.3" cy="406.2" r="2.5" fill="#000"/>
<circle cx="480.3" cy="409.3" r="2.5" fill="#000"/>
<circle cx="480.3" cy="412.4" r="2.5" fill="#000"/>
<circle cx="480.3" cy="415.4" r="2.5" fill="#000"/>
<circle cx="480.3" cy="418.5" r="2.5" fill="#000"/>
<circle cx="478.5" cy="419.5" r="2.5" fill="#000"/>
<circle cx="573.0" cy="165.8" r="2.5" fill="#000"/>
<circle cx="577.7" cy="163.3" r="2.5" fill="#000"/>
<circle cx="570.3" cy="164.6" r="2.5" fill="#000"/>
<circle cx="574.8" cy="172.0" r="2.5" fill="#000"/>
<circle cx="569.4" cy="159.0" r="2.5" fill="#000"/>
<circle cx="569.4" cy="172.5" r="2.5" fill="#000"/>
<circle cx="573.8" cy="152.6" r="2.5" fill="#000"/>
<circle cx="573.1" cy="158.4" r="2.5" fill="#000"/>
<circle cx="576.9" cy="169.8" r="2.5" fill="#000"/>
<circle cx="578.1" cy="173.5" r="2.5" fill="#000"/>
<circle cx="569.2" cy="167.7" r="2.5" fill="#000"/>
<circle cx="576.3" cy="158.1" r="2.5" fill="#000"/>
<circle cx="574.1" cy="162.9" r="2.5" fill="#000"/>
<circle cx="571.5" cy="174.4" r="2.5" fill="#000"/>
<circle cx="570.3" cy="155.1" r="2.5" fill="#000"/>
<circle cx="575.9" cy="175.9" r="2.5" fill="#000"/>
<circle cx="571.7" cy="177.5" r="2.5" fill="#000"/>
<circle cx="572.0" cy="169.2" r="2.5" fill="#000"/>
<circle cx="577.1" cy="166.2" r="2.5" fill="#000"/>
<circle cx="570.7" cy="176.7" r="2.5" fill="#000"/>
<circle cx="575.9" cy="176.7" r="2.5" fill="#000"/>
<circle cx="139.6" cy="62.8" r="2.5" fill="#f00"/>
<circle cx="139.6" cy="65.3" r="2.5" fill="#f00"/>
<circle cx="139.6" cy="71.4" r="2.5" fill="#f00"/>
<circle cx="139.6" cy="72.9" r="2.5" fill="#f00"/>
<circle cx="139.6" cy="90.5" r="2.5" fill="#f00"/>
<circle cx="154.4" cy="42.5" r="2.5" fill="#f00"/>
<circle cx="154.4" cy="53.8" r="2.5" fill="#f00"/>
<circle cx="154.4" cy="62.0" r="2.5" fill="#f00"/>
<circle cx="154.4" cy="67.3" r="2.5" fill="#f00"/>
<circle cx="154.4" cy="74.8" r="2.5" fill="#f00"/>
<circle cx="154.4" cy="77.4" r="2.5" fill="#f00"/>
<circle cx="154.4" cy="81.4" r="2.5" fill="#f00"/>
<circle cx="243.4" cy="77.7" r="2.5" fill="#f00"/>
<circle cx="243.4" cy="104.1" r="2.5" fill="#f00"/>
<circle cx="243.4" cy="120.1" r="2.5" fill="#f00"/>
<circle cx="243.4" cy="121.8" r="2.5" fill="#f00"/>
<circle cx="243.4" cy="123.5" r="2.5" fill="#f00"/>
<circle cx="243.4" cy="125.1" r="2.5" fill="#f00"/>
<circle cx="243.4" cy="150.2" r="2.5" fill="#f00"/>
<circle cx="243.4" cy="164.6" r="2.5" fill="#f00"/>
<circle cx="244.3" cy="156.2" r="2.5" fill="#f00"/>
<circle cx="364.2" cy="67.7" r="2.5" fill="#f00"/>
<circle cx="364.2" cy="97.6" r="2.5" fill="#f00"/>
<circle cx="364.2" cy="174.3" r="2.5" fill="#f00"/>
<circle cx="563.7" cy="151.4" r="2.5" fill="#f00"/>
<circle cx="634.4" cy="129.5" r="2.5" fill="#f00"/>
<circle cx="634.4" cy="137.2" r="2.5" fill="#f00"/>
<circle cx="634.4" cy="149.3" r="2.5" fill="#f00"/>
<circle cx="654.8" cy="131.6" r="2.5" fill="#f00"/>
<circle cx="652.9" cy="134.5" r="2.5" fill="#f00"/>
<circle cx="654.8" cy="140.8" r="2.5" fill="#f00"/>
<circle cx="652.9" cy="150.0" r="2.5" fill="#f00"/>
<circle cx="654.8" cy="153.2" r="2.5" fill="#f00"/>
<circle cx="652.9" cy="156.4" r="2.5" fill="#f00"/>
<circle cx="654.8" cy="159.6" r="2.5" fill="#f00"/>
<circle cx="652.9" cy="162.8" r="2.5" fill="#f00"/>
<circle cx="654.8" cy="166.0" r="2.5" fill="#f00"/>
<circle cx="652.9" cy="169.2" r="2.5" fill="#f00"/>
<circle cx="654.8" cy="172.4" r="2.5" fill="#f00"/>
<circle cx="652.9" cy="175.6" r="2.5" fill="#f00"/>
<circle cx="654.8" cy="178.8" r="2.5" fill="#f00"/>
<circle cx="652.9" cy="182.0" r="2.5" fill="#f00"/>
<circle cx="654.8" cy="185.0" r="2.5" fill="#f00"/>
<circle cx="652.9" cy="186.8" r="2.5" fill="#f00"/>
<circle cx="652.8" cy="132.5" r="2.5" fill="#f00"/>
<circle cx="655.0" cy="133.3" r="2.5" fill="#f00"/>
<circle cx="655.2" cy="168.0" r="2.5" fill="#f00"/>
<circle cx="659.7" cy="135.5" r="2.5" fill="#f00"/>
<circle cx="661.7" cy="139.5" r="2.5" fill="#f00"/>
<circle cx="661.0" cy="143.4" r="2.5" fill="#f00"/>
<circle cx="664.3" cy="146.0" r="2.5" fill="#f00"/>
<circle cx="665.7" cy="151.3" r="2.5" fill="#f00"/>
<circle cx="667.0" cy="155.3" r="2.5" fill="#f00"/>
<circle cx="668.3" cy="158.6" r="2.5" fill="#f00"/>
<circle cx="672.9" cy="159.2" r="2.5" fill="#f00"/>
<circle cx="676.8" cy="163.2" r="2.5" fill="#f00"/>
<circle cx="664.3" cy="173.7" r="2.5" fill="#f00"/>
<circle cx="663.7" cy="179.0" r="2.5" fill="#f00"/>
<circle cx="667.6" cy="179.0" r="2.5" fill="#f00"/>
<circle cx="664.3" cy="182.9" r="2.5" fill="#f00"/>
<circle cx="667.6" cy="184.2" r="2.5" fill="#f00"/>
<circle cx="664.3" cy="186.8" r="2.5" fill="#f00"/>
<circle cx="673.6" cy="181.6" r="2.5" fill="#f00"/>
<circle cx="673.6" cy="189.5" r="2.5" fill="#f00"/>
<circle cx="678.8" cy="132.2" r="2.5" fill="#f00"/>
<circle cx="676.8" cy="169.7" r="2.5" fill="#f00"/>
<circle cx="675.5" cy="181.6" r="2.5" fill="#f00"/>
<circle cx="677.0" cy="142.0" r="2.5" fill="#f00"/>
<circle cx="677.0" cy="144.8" r="2.5" fill="#f00"/>
<circle cx="677.0" cy="147.6" r="2.5" fill="#f00"/>
<circle cx="677.0" cy="150.4" r="2.5" fill="#f00"/>
<circle cx="677.0" cy="153.2" r="2.5" fill="#f00"/>
<circle cx="677.0" cy="156.1" r="2.5" fill="#f00"/>
<circle cx="677.0" cy="158.9" r="2.5" fill="#f00"/>
<circle cx="677.0" cy="161.7" r="2.5" fill="#f00"/>
<circle cx="677.0" cy="164.5" r="2.5" fill="#f00"/>
<circle cx="679.5" cy="143.5" r="2.5" fill="#f00"/>
<circle cx="679.5" cy="147.2" r="2.5" fill="#f00"/>
<circle cx="679.5" cy="150.9" r="2.5" fill="#f00"/>
<circle cx="679.5" cy="154.6" r="2.5" fill="#f00"/>
<circle cx="679.5" cy="158.3" r="2.5" fill="#f00"/>
<circle cx="679.5" cy="162.0" r="2.5" fill="#f00"/>
<circle cx="678.8" cy="175.0" r="2.5" fill="#f00"/>
<circle cx="678.8" cy="177.7" r="2.5" fill="#f00"/>
<circle cx="678.8" cy="180.3" r="2.5" fill="#f00"/>
<circle cx="678.8" cy="183.0" r="2.5" fill="#f00"/>
<circle cx="680.0" cy="178.0" r="2.5" fill="#f00"/>
<circle cx="676.5" cy="176.0" r="2.5" fill="#f00"/>
<circle cx="177.4" cy="356.1" r="2.5" fill="#f00"/>
<circle cx="190.4" cy="352.6" r="2.5" fill="#f00"/>
<circle cx="182.1" cy="371.0" r="2.5" fill="#f00"/>
<circle cx="194.9" cy="369.5" r="2.5" fill="#f00"/>
<circle cx="209.0" cy="366.5" r="2.5" fill="#f00"/>
<circle cx="219.4" cy="375.9" r="2.5" fill="#f00"/>
<circle cx="223.6" cy="382.6" r="2.5" fill="#f00"/>
<circle cx="213.7" cy="389.1" r="2.5" fill="#f00"/>
<circle cx="260.6" cy="355.5" r="2.5" fill="#f00"/>
<circle cx="265.1" cy="357.4" r="2.5" fill="#f00"/>
<circle cx="254.6" cy="379.4" r="2.5" fill="#f00"/>
<circle cx="249.1" cy="383.0" r="2.5" fill="#f00"/>
<circle cx="311.7" cy="371.9" r="2.5" fill="#f00"/>
<circle cx="328.0" cy="379.8" r="2.5" fill="#f00"/>
<circle cx="328.0" cy="380.7" r="2.5" fill="#f00"/>
<circle cx="324.1" cy="397.1" r="2.5" fill="#f00"/>
<circle cx="316.5" cy="406.1" r="2.5" fill="#f00"/>
<circle cx="332.7" cy="414.5" r="2.5" fill="#f00"/>
<circle cx="338.8" cy="377.7" r="2.5" fill="#f00"/>
<circle cx="343.5" cy="418.7" r="2.5" fill="#f00"/>
<circle cx="398.5" cy="392.0" r="2.5" fill="#f00"/>
<circle cx="405.1" cy="389.2" r="2.5" fill="#f00"/>
<circle cx="412.1" cy="397.1" r="2.5" fill="#f00"/>
<circle cx="417.1" cy="404.4" r="2.5" fill="#f00"/>
<circle cx="496.4" cy="404.5" r="2.5" fill="#f00"/>
<circle cx="488.1" cy="419.0" r="2.5" fill="#f00"/>
<circle cx="493.0" cy="416.8" r="2.5" fill="#f00"/>
<circle cx="498.8" cy="421.2" r="2.5" fill="#f00"/>
<circle cx="546.7" cy="358.8" r="2.5" fill="#f00"/>
<circle cx="554.2" cy="362.2" r="2.5" fill="#f00"/>
<circle cx="558.9" cy="371.0" r="2.5" fill="#f00"/>
<circle cx="542.3" cy="369.1" r="2.5" fill="#f00"/>
<circle cx="539.2" cy="374.4" r="2.5" fill="#f00"/>
<circle cx="513.4" cy="384.5" r="2.5" fill="#f00"/>
<circle cx="541.6" cy="391.6" r="2.5" fill="#f00"/>
<circle cx="504.4" cy="394.8" r="2.5" fill="#f00"/>
<circle cx="556.6" cy="411.7" r="2.5" fill="#f00"/>
<circle cx="507.8" cy="415.7" r="2.5" fill="#f00"/>
<circle cx="518.1" cy="417.4" r="2.5" fill="#f00"/>
<circle cx="523.2" cy="414.2" r="2.5" fill="#f00"/>
<circle cx="527.9" cy="416.1" r="2.5" fill="#f00"/>
<circle cx="534.1" cy="419.8" r="2.5" fill="#f00"/>
<circle cx="536.0" cy="421.7" r="2.5" fill="#f00"/>
<circle cx="536.3" cy="423.9" r="2.5" fill="#f00"/>
<circle cx="543.3" cy="420.4" r="2.5" fill="#f00"/>
<circle cx="513.4" cy="427.3" r="2.5" fill="#f00"/>
<circle cx="545.7" cy="427.3" r="2.5" fill="#f00"/>
<circle cx="548.0" cy="429.8" r="2.5" fill="#f00"/>
<circle cx="557.0" cy="426.8" r="2.5" fill="#f00"/>
<circle cx="525.4" cy="435.8" r="2.5" fill="#f00"/>
<circle cx="609.5" cy="349.0" r="2.5" fill="#f00"/>
<circle cx="603.5" cy="353.1" r="2.5" fill="#f00"/>
<circle cx="582.6" cy="354.1" r="2.5" fill="#f00"/>
<circle cx="584.5" cy="360.1" r="2.5" fill="#f00"/>
<circle cx="570.4" cy="365.7" r="2.5" fill="#f00"/>
<circle cx="594.4" cy="365.7" r="2.5" fill="#f00"/>
<circle cx="592.2" cy="371.5" r="2.5" fill="#f00"/>
<circle cx="605.3" cy="373.2" r="2.5" fill="#f00"/>
<circle cx="595.4" cy="377.2" r="2.5" fill="#f00"/>
<circle cx="564.8" cy="380.4" r="2.5" fill="#f00"/>
<circle cx="568.1" cy="383.8" r="2.5" fill="#f00"/>
<circle cx="574.2" cy="386.0" r="2.5" fill="#f00"/>
<circle cx="564.8" cy="389.8" r="2.5" fill="#f00"/>
<circle cx="570.4" cy="390.3" r="2.5" fill="#f00"/>
<circle cx="589.7" cy="400.1" r="2.5" fill="#f00"/>
<circle cx="579.4" cy="412.3" r="2.5" fill="#f00"/>
<circle cx="585.0" cy="413.6" r="2.5" fill="#f00"/>
<circle cx="587.3" cy="420.4" r="2.5" fill="#f00"/>
<circle cx="562.9" cy="429.4" r="2.5" fill="#f00"/>
<circle cx="574.3" cy="432.0" r="2.5" fill="#f00"/>
<circle cx="598.2" cy="430.7" r="2.5" fill="#f00"/>
<circle cx="243.1" cy="84.5" r="2.5" fill="#00f"/>
<circle cx="243.1" cy="129.3" r="2.5" fill="#00f"/>
<circle cx="243.1" cy="143.5" r="2.5" fill="#00f"/>
<circle cx="243.1" cy="153.9" r="2.5" fill="#00f"/>
<circle cx="243.1" cy="160.6" r="2.5" fill="#00f"/>
<circle cx="243.1" cy="166.8" r="2.5" fill="#00f"/>
<circle cx="243.1" cy="172.5" r="2.5" fill="#00f"/>
<circle cx="243.1" cy="174.2" r="2.5" fill="#00f"/>
<circle cx="243.1" cy="177.6" r="2.5" fill="#00f"/>
<circle cx="264.1" cy="118.2" r="2.5" fill="#00f"/>
<circle cx="264.1" cy="145.6" r="2.5" fill="#00f"/>
<circle cx="264.1" cy="150.7" r="2.5" fill="#00f"/>
<circle cx="264.1" cy="153.3" r="2.5" fill="#00f"/>
<circle cx="264.1" cy="159.2" r="2.5" fill="#00f"/>
<circle cx="264.1" cy="161.4" r="2.5" fill="#00f"/>
<circle cx="264.1" cy="168.7" r="2.5" fill="#00f"/>
<circle cx="264.1" cy="170.4" r="2.5" fill="#00f"/>
<circle cx="264.1" cy="175.5" r="2.5" fill="#00f"/>
<circle cx="289.1" cy="79.6" r="2.5" fill="#00f"/>
<circle cx="289.1" cy="92.0" r="2.5" fill="#00f"/>
<circle cx="289.1" cy="93.7" r="2.5" fill="#00f"/>
<circle cx="289.1" cy="106.6" r="2.5" fill="#00f"/>
<circle cx="289.1" cy="108.9" r="2.5" fill="#00f"/>
<circle cx="289.1" cy="111.1" r="2.5" fill="#00f"/>
<circle cx="289.1" cy="113.6" r="2.5" fill="#00f"/>
<circle cx="289.1" cy="118.6" r="2.5" fill="#00f"/>
<circle cx="289.1" cy="128.6" r="2.5" fill="#00f"/>
<circle cx="289.1" cy="134.2" r="2.5" fill="#00f"/>
<circle cx="289.1" cy="136.5" r="2.5" fill="#00f"/>
<circle cx="289.1" cy="138.7" r="2.5" fill="#00f"/>
<circle cx="289.1" cy="146.1" r="2.5" fill="#00f"/>
<circle cx="289.1" cy="148.9" r="2.5" fill="#00f"/>
<circle cx="289.1" cy="151.7" r="2.5" fill="#00f"/>
<circle cx="289.1" cy="153.9" r="2.5" fill="#00f"/>
<circle cx="289.1" cy="156.2" r="2.5" fill="#00f"/>
<circle cx="289.1" cy="159.6" r="2.5" fill="#00f"/>
<circle cx="363.9" cy="93.9" r="2.5" fill="#00f"/>
<circle cx="363.9" cy="110.9" r="2.5" fill="#00f"/>
<circle cx="363.9" cy="133.8" r="2.5" fill="#00f"/>
<circle cx="363.9" cy="158.0" r="2.5" fill="#00f"/>
<circle cx="559.1" cy="144.6" r="2.5" fill="#00f"/>
<circle cx="558.8" cy="147.0" r="2.5" fill="#00f"/>
<circle cx="558.3" cy="149.3" r="2.5" fill="#00f"/>
<circle cx="559.0" cy="151.5" r="2.5" fill="#00f"/>
<circle cx="559.9" cy="153.3" r="2.5" fill="#00f"/>
<circle cx="559.1" cy="156.6" r="2.5" fill="#00f"/>
<circle cx="130.9" cy="371.4" r="2.5" fill="#00f"/>
<circle cx="141.4" cy="378.0" r="2.5" fill="#00f"/>
<circle cx="126.6" cy="380.3" r="2.5" fill="#00f"/>
<circle cx="114.5" cy="383.1" r="2.5" fill="#00f"/>
<circle cx="119.0" cy="388.3" r="2.5" fill="#00f"/>
<circle cx="119.3" cy="39.8" r="2.5" fill="#0f0"/>
<circle cx="118.2" cy="42.8" r="2.5" fill="#0f0"/>
<circle cx="119.6" cy="57.1" r="2.5" fill="#0f0"/>
<circle cx="118.8" cy="59.3" r="2.5" fill="#0f0"/>
<circle cx="118.2" cy="61.3" r="2.5" fill="#0f0"/>
<circle cx="119.3" cy="67.0" r="2.5" fill="#0f0"/>
<circle cx="118.2" cy="73.2" r="2.5" fill="#0f0"/>
<circle cx="119.3" cy="76.9" r="2.5" fill="#0f0"/>
<circle cx="117.8" cy="79.6" r="2.5" fill="#0f0"/>
<circle cx="118.2" cy="82.6" r="2.5" fill="#0f0"/>
<circle cx="119.6" cy="101.9" r="2.5" fill="#0f0"/>
<circle cx="138.1" cy="37.5" r="2.5" fill="#0f0"/>
<circle cx="288.7" cy="97.3" r="2.5" fill="#0f0"/>
<circle cx="288.7" cy="123.0" r="2.5" fill="#0f0"/>
<circle cx="288.7" cy="125.8" r="2.5" fill="#0f0"/>
<circle cx="363.3" cy="114.4" r="2.5" fill="#0f0"/>
<circle cx="363.3" cy="118.6" r="2.5" fill="#0f0"/>
<circle cx="363.3" cy="131.3" r="2.5" fill="#0f0"/>
<circle cx="363.3" cy="138.9" r="2.5" fill="#0f0"/>
<circle cx="363.3" cy="149.5" r="2.5" fill="#0f0"/>
<g opacity="0.999">
<text transform="translate(23.50 236.50) scale(1.050 1)" fill="#000">4.4</text>
<text transform="translate(23.50 187.83) scale(1.096 1)" fill="#000">4.6</text>
<text transform="translate(23.50 139.17) scale(1.096 1)" fill="#000">4.8</text>
<text transform="translate(37.79 90.50) scale(1.213 1)" fill="#000">5</text>
<text transform="translate(22.35 41.83) scale(1.145 1)" fill="#000">5.2</text>
<text transform="translate(23.50 499.20) scale(1.042 1)" fill="#000">4.4</text>
<text transform="translate(23.50 430.00) scale(1.087 1)" fill="#000">4.6</text>
<text transform="translate(23.50 360.80) scale(1.087 1)" fill="#000">4.8</text>
<text transform="translate(37.81 291.60) scale(1.188 1)" fill="#000">5</text>
<text transform="translate(63.92 252.00) scale(1.075 1)" fill="#000">64.5</text>
<text transform="translate(107.85 252.00) scale(1.050 1)" fill="#000">65</text>
<text transform="translate(135.20 252.00) scale(1.097 1)" fill="#000">65.5</text>
<text transform="translate(178.89 252.00) scale(1.006 1)" fill="#000">66</text>
<text transform="translate(220.58 252.00) scale(1.115 1)" fill="#000">110</text>
<text transform="translate(256.37 252.00) scale(1.030 1)" fill="#000">120</text>
<text transform="translate(292.16 252.00) scale(1.044 1)" fill="#000">130</text>
<text transform="translate(327.45 252.00) scale(1.052 1)" fill="#000">140</text>
<text transform="translate(375.30 252.00) scale(1.078 1)" fill="#000">0</text>
<text transform="translate(408.88 252.00) scale(1.117 1)" fill="#000">20</text>
<text transform="translate(449.90 252.00) scale(1.047 1)" fill="#000">40</text>
<text transform="translate(488.78 252.00) scale(1.117 1)" fill="#000">60</text>
<text transform="translate(529.40 252.00) scale(1.100 1)" fill="#000">20</text>
<text transform="translate(567.15 252.00) scale(1.042 1)" fill="#000">40</text>
<text transform="translate(602.70 252.00) scale(1.100 1)" fill="#000">60</text>
<text transform="translate(640.45 252.00) scale(1.042 1)" fill="#000">80</text>
<text transform="translate(673.08 252.00) scale(1.019 1)" fill="#000">100</text>
<text transform="translate(90.37 265.70) scale(1.131 1)" fill="#000">2015</text>
<text transform="translate(141.35 265.70) scale(0.953 1)" fill="#000">(DOY)</text>
<text transform="translate(246.56 265.70) scale(1.144 1)" fill="#000">2016</text>
<text transform="translate(297.75 265.70) scale(0.947 1)" fill="#000">(DOY)</text>
<text transform="translate(403.27 265.70) scale(1.131 1)" fill="#000">2017</text>
<text transform="translate(455.05 265.70) scale(0.953 1)" fill="#000">(DOY)</text>
<text transform="translate(559.47 265.70) scale(1.131 1)" fill="#000">2018</text>
<text transform="translate(610.45 265.70) scale(0.953 1)" fill="#000">(DOY)</text>
<text transform="translate(131.11 514.70) scale(1.089 1)" fill="#000">20</text>
<text transform="translate(232.70 514.70) scale(1.032 1)" fill="#000">30</text>
<text transform="translate(333.20 514.70) scale(1.032 1)" fill="#000">40</text>
<text transform="translate(432.61 514.70) scale(1.089 1)" fill="#000">50</text>
<text transform="translate(533.11 514.70) scale(1.089 1)" fill="#000">60</text>
<text transform="translate(633.61 514.70) scale(1.089 1)" fill="#000">70</text>
<text transform="translate(315.17 528.40) scale(1.026 1)" fill="#000">Elevation</text>
<text transform="translate(396.19 528.40) scale(1.105 1)" fill="#000">(deg)</text>
<text transform="translate(630.30 29.30) scale(1.032 1)" fill="#000">3C353</text>
<text transform="translate(630.30 46.60) scale(1.032 1)" fill="#f00">3C286</text>
<text transform="translate(630.30 63.70) scale(1.032 1)" fill="#00f">3C218</text>
<text transform="translate(630.30 80.70) scale(1.032 1)" fill="#0f0">3C123</text>
<text transform="translate(605.40 311.60) scale(1.040 1)" fill="#000">3C353</text>
<text transform="translate(605.40 332.80) scale(1.040 1)" fill="#f00">3C286</text>
<text transform="translate(605.40 354.00) scale(1.040 1)" fill="#00f">3C218</text>
<text transform="translate(284.27 311.90) scale(1.125 1)" fill="#000">2017</text>
<text transform="translate(335.30 311.90) scale(1.000 1)" fill="#000">Jan</text>
<text transform="translate(393.25 311.90) scale(1.150 1)" fill="#000">2018</text>
<text transform="translate(444.00 311.90) scale(0.959 1)" fill="#000">Apr</text>
<g transform="translate(14.6 159.0) rotate(-90)"><text transform="translate(-0.90 0.00) scale(0.900 1)" font-size="17">S</text><text transform="translate(18.00 0.00) scale(0.788 1)" font-size="17">J</text><text transform="translate(25.90 0.00) scale(0.878 1)" font-size="17">y</text><text transform="translate(53.80 0.00) scale(0.750 1)" font-size="17">T</text><text transform="translate(61.30 6.10) scale(0.885 1)" font-size="12">A</text><text transform="translate(76.65 0.00) scale(0.850 1)" font-size="17">K</text></g>
<g fill="none" stroke="#000" stroke-width="1.25" stroke-linecap="round"><path d="M0.9 142.4A12.3 12.3 0 0 0 17.2 142.4"/><path d="M0.9 123.3A12.3 12.3 0 0 1 17.2 123.3"/><path d="M1.0 107.0L17.4 116.1"/><path d="M0.9 84.3A12.3 12.3 0 0 0 17.2 84.3"/><path d="M0.9 70.4A12.3 12.3 0 0 1 17.2 70.4"/></g>
<g transform="translate(14.6 427.0) rotate(-90)"><text transform="translate(-0.90 0.00) scale(0.900 1)" font-size="17">S</text><text transform="translate(18.00 0.00) scale(0.788 1)" font-size="17">J</text><text transform="translate(25.90 0.00) scale(0.878 1)" font-size="17">y</text><text transform="translate(53.80 0.00) scale(0.750 1)" font-size="17">T</text><text transform="translate(61.30 6.10) scale(0.885 1)" font-size="12">A</text><text transform="translate(76.65 0.00) scale(0.850 1)" font-size="17">K</text></g>
<g fill="none" stroke="#000" stroke-width="1.25" stroke-linecap="round"><path d="M0.9 410.4A12.3 12.3 0 0 0 17.2 410.4"/><path d="M0.9 391.3A12.3 12.3 0 0 1 17.2 391.3"/><path d="M1.0 375.0L17.4 384.1"/><path d="M0.9 352.3A12.3 12.3 0 0 0 17.2 352.3"/><path d="M0.9 338.4A12.3 12.3 0 0 1 17.2 338.4"/></g>
<path d="M373.9 306.2H384.6" stroke="#000" stroke-width="1.3"/>
<g fill="none" stroke="#000" stroke-width="1.35" stroke-linecap="round"><ellipse cx="15.3" cy="13.95" rx="4.75" ry="6.1"/><path d="M20.5 7.9V20.3"/><path d="M26.7 -1.3A18 18 0 0 1 26.7 25.6"/><ellipse cx="11.3" cy="301.25" rx="4.65" ry="5.95"/><path d="M6.6 289.5V307.3"/><path d="M21.3 286.2A18 18 0 0 1 21.3 313.3"/></g>
</g>
</svg></body></html>
